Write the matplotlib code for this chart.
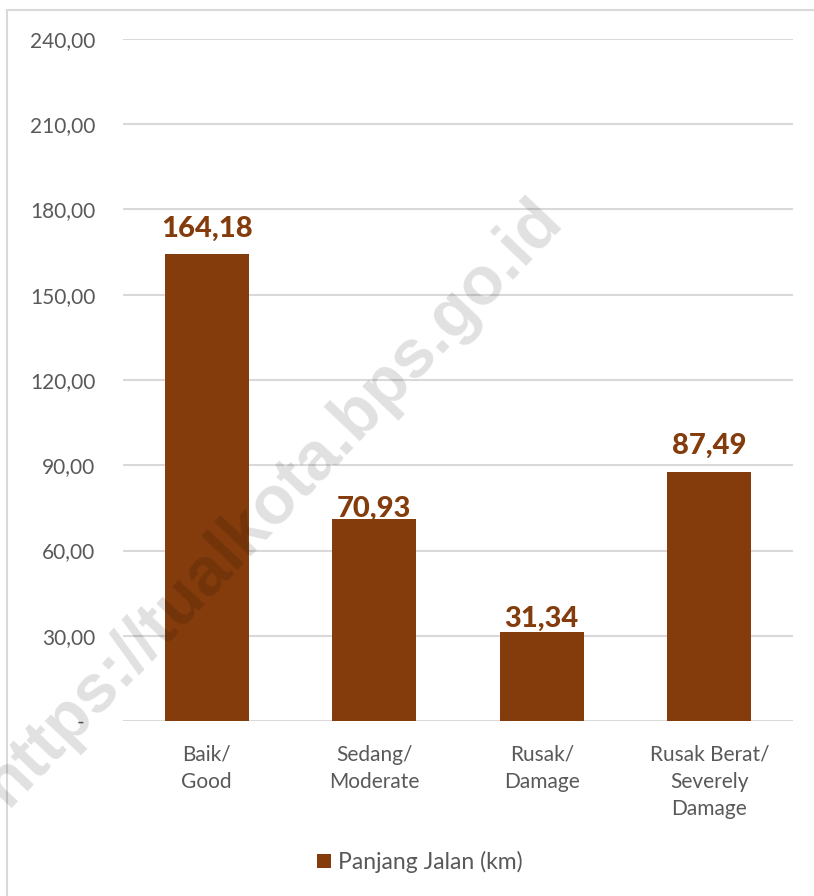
import matplotlib
matplotlib.use("Agg")
import matplotlib.pyplot as plt
from matplotlib.patches import Rectangle

categories = ["Baik/\nGood", "Sedang/\nModerate", "Rusak/\nDamage", "Rusak Berat/\nSeverely\nDamage"]
values = [164.18, 70.93, 31.34, 87.49]
yticks = [0, 30, 60, 90, 120, 150, 180, 210, 240]
series_name = "Panjang Jalan (km)"

BAR = "#843C0C"
TXT = "#595959"
GRID = "#D9D9D9"
FONT = ["Lato", "DejaVu Sans"]
label_gap_pt = [13, 2.2, 3.6, 13.7]   # vertical gap between bar top and label baseline

plt.rcParams['font.family'] = FONT

fig = plt.figure(figsize=(8.14, 8.96), dpi=100)
fig.patches.append(Rectangle((7/814, -0.1), 1.2, 1 - 10/896 + 0.1,
                             transform=fig.transFigure, fill=False,
                             edgecolor=GRID, linewidth=1.5))

ax = fig.add_axes([123/814, 1 - 721/896, 670/814, 682/896])
x = list(range(len(categories)))
bars = ax.bar(x, values, width=0.5, color=BAR, zorder=2, label=series_name)
ax.set_xlim(-0.5, 3.5)
ax.set_ylim(0, 240)
ax.set_yticks(yticks)
ax.set_yticklabels([("-  " if v == 0 else f"{v:.2f}".replace(".", ",")) for v in yticks])
ax.grid(axis="y", color=GRID, linewidth=1.5, zorder=0)
for s in ax.spines.values():
    s.set_visible(False)
ax.tick_params(axis="y", length=0, pad=20, labelsize=15, labelcolor=TXT)
ax.set_xticks(x)
ax.set_xticklabels(categories, fontsize=15, color=TXT, linespacing=1.45)
ax.tick_params(axis="x", length=0, pad=17)

for xi, v, g in zip(x, values, label_gap_pt):
    ax.annotate(f"{v:.2f}".replace(".", ","), (xi, v), xytext=(0, g),
                textcoords="offset points", ha="center", va="baseline",
                fontsize=21, fontweight=900, color=BAR)

fig.legend(handles=[bars], labels=[series_name], loc="center",
           bbox_to_anchor=(420/814, 1 - 862/896), frameon=False,
           fontsize=16.5, labelcolor=TXT, handlelength=0.6, handleheight=0.6,
           handletextpad=0.3)

fig.text(272/814, 1 - 503/896, "https://tualkota.bps.go.id", rotation=46.5,
         rotation_mode="anchor", ha="center", va="center",
         fontsize=49, fontweight="bold", family=["Liberation Sans", "DejaVu Sans"],
         color="black", alpha=0.12, zorder=10)

fig.savefig("out.png", dpi=100)
